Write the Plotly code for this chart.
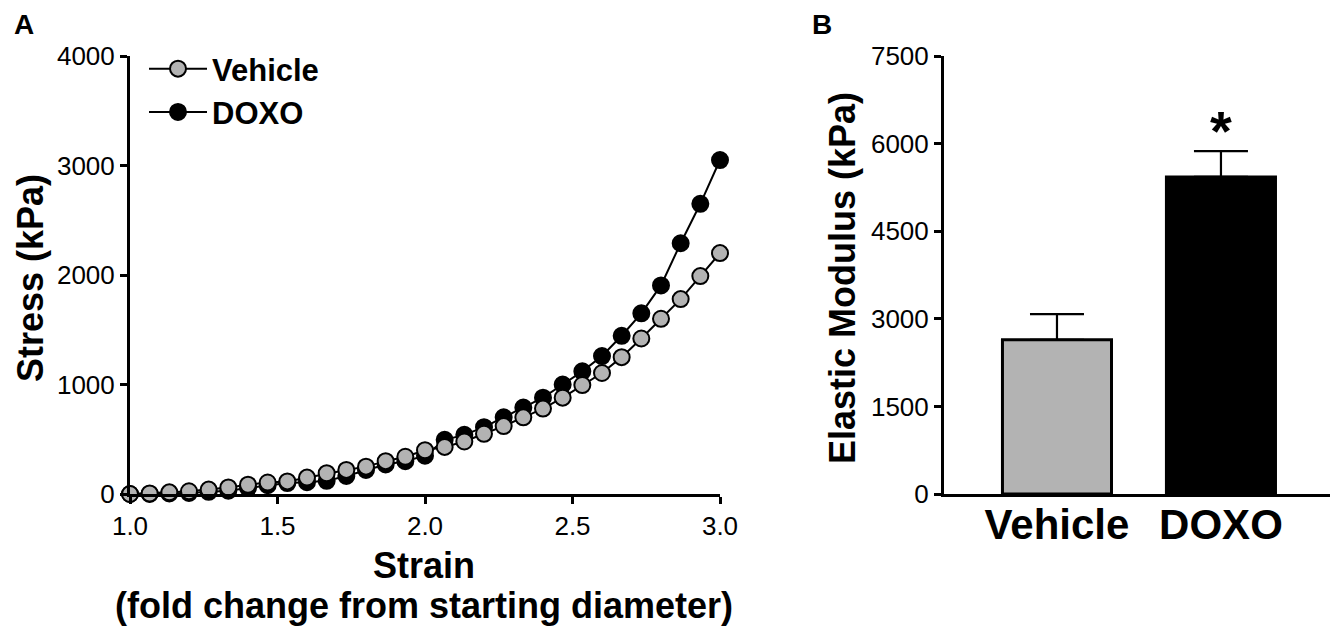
import plotly.graph_objects as go

# ---- data ----
strain = [1 + i * (2 / 30) for i in range(31)]
vehicle_stress = [0, 5, 15, 25, 40, 60, 85, 105, 115, 150, 190, 220, 250, 300, 340, 400,
                  430, 480, 550, 620, 700, 780, 880, 995, 1105, 1250, 1420, 1600, 1780, 1990, 2200]
doxo_stress = [0, 0, 5, 10, 20, 30, 55, 80, 100, 108, 120, 165, 220, 270, 300, 350,
               495, 540, 610, 700, 790, 880, 1000, 1120, 1260, 1445, 1650, 1905, 2290, 2650, 3050]

groups = ["Vehicle", "DOXO"]
modulus_mean = [2640, 5430]
modulus_sem = [440, 440]

x_ticks = [1.0, 1.5, 2.0, 2.5, 3.0]
y_ticks_a = [0, 1000, 2000, 3000, 4000]
y_ticks_b = [0, 1500, 3000, 4500, 6000, 7500]

FONT = "Liberation Sans, Arial, sans-serif"
GRAY = "#b3b3b3"
OFF = 8                      # default page body margin
W, H = 1344 - OFF, 631 - OFF


def px(x):   # page x pixel -> paper fraction
    return (x - OFF) / W


def py(y):   # page y pixel (from top) -> paper fraction
    return (H - (y - OFF)) / H


fig = go.Figure()

fig.add_trace(go.Scatter(
    x=strain, y=doxo_stress, mode="lines+markers", name="DOXO",
    line=dict(color="black", width=2),
    marker=dict(size=16, color="black", line=dict(color="black", width=2)),
    cliponaxis=False, xaxis="x", yaxis="y", legendrank=2))
fig.add_trace(go.Scatter(
    x=strain, y=vehicle_stress, mode="lines+markers", name="Vehicle",
    line=dict(color="black", width=2),
    marker=dict(size=16, color=GRAY, line=dict(color="black", width=2)),
    cliponaxis=False, xaxis="x", yaxis="y", legendrank=1))

fig.add_trace(go.Bar(
    x=[0, 1], y=modulus_mean, width=0.665,
    marker=dict(color=[GRAY, "black"], line=dict(color="black", width=3)),
    error_y=dict(type="data", array=modulus_sem, arrayminus=[0, 0], symmetric=False,
                 color="black", thickness=2.2, width=27),
    showlegend=False, xaxis="x2", yaxis="y2"))

axis_common = dict(showline=True, linecolor="black", linewidth=3, ticks="outside",
                   tickcolor="black", tickwidth=3, ticklen=7, showgrid=False, zeroline=False,
                   automargin=False,
                   tickfont=dict(family=FONT, size=26, color="black"))

ydom = [py(494), py(56)]
fig.update_layout(
    width=W, height=H, margin=dict(l=0, r=0, t=0, b=0, pad=0, autoexpand=False),
    plot_bgcolor="white", paper_bgcolor="white",
    xaxis=dict(domain=[px(130), px(720)], range=[1, 3], tickvals=x_ticks,
               tickformat=".1f", anchor="y", **axis_common),
    yaxis=dict(domain=ydom, range=[0, 4000], tickvals=y_ticks_a, anchor="x", **axis_common),
    xaxis2=dict(domain=[px(944), px(1330)], range=[-0.689, 1.665], tickvals=[0, 1],
                ticktext=groups, anchor="y2", showline=True, linecolor="black", linewidth=3,
                ticks="", showgrid=False, zeroline=False, automargin=False,
                ticklabelstandoff=-8,
                tickfont=dict(family=FONT, size=42, color="black", weight="bold")),
    yaxis2=dict(domain=ydom, range=[0, 7500], tickvals=y_ticks_b, anchor="x2", **axis_common),
    legend=dict(x=px(144), y=py(42), xanchor="left", yanchor="top",
                font=dict(family=FONT, size=31, color="black", weight="bold"),
                bgcolor="rgba(0,0,0,0)", itemwidth=58, tracegroupgap=0),
    showlegend=True,
)

ann = [
    dict(text="A", x=px(24), y=py(24), font=dict(size=28, weight="bold")),
    dict(text="B", x=px(822), y=py(24), font=dict(size=28, weight="bold")),
    dict(text="Stress (kPa)", x=px(30), y=py(278), textangle=-90,
         font=dict(size=36, weight="bold")),
    dict(text="Strain", x=px(424), y=py(565), font=dict(size=36, weight="bold")),
    dict(text="(fold change from starting diameter)", x=px(424), y=py(605),
         font=dict(size=36, weight="bold")),
    dict(text="Elastic Modulus (kPa)", x=px(842), y=py(278), textangle=-90,
         font=dict(size=36, weight="bold")),
]
for a in ann:
    a["font"] = dict(family=FONT, color="black", **a["font"])
    fig.add_annotation(xref="paper", yref="paper", showarrow=False,
                       xanchor="center", yanchor="middle", **a)

fig.add_annotation(x=1, y=modulus_mean[1] + modulus_sem[1], xref="x2", yref="y2",
                   text="*", showarrow=False, yanchor="bottom", yshift=-13,
                   font=dict(family=FONT, size=56, color="black", weight="bold"))

fig.write_html("out.html")
